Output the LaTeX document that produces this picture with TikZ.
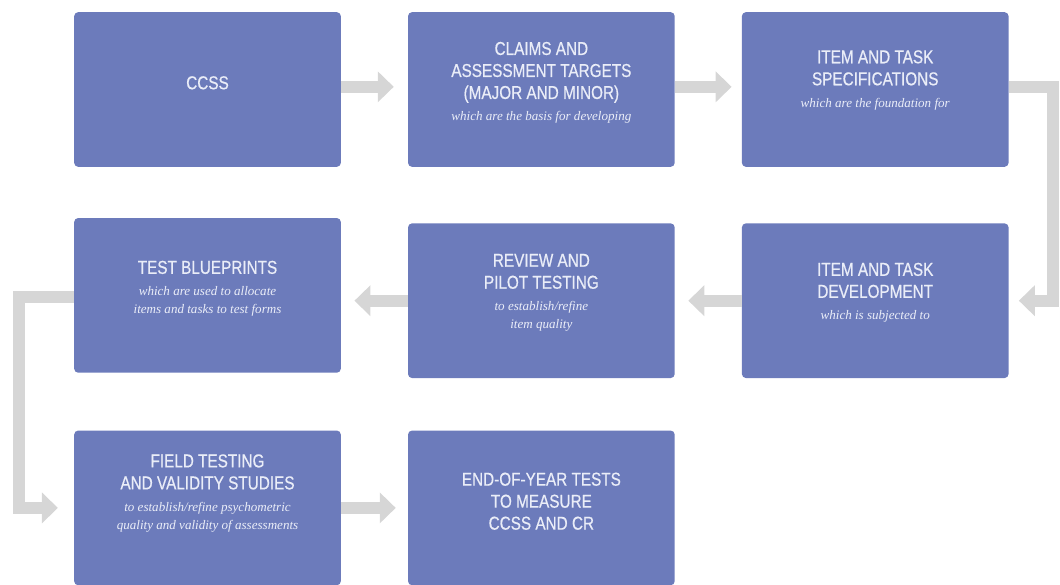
\documentclass[tikz,border=0pt]{standalone}
\usepackage{fontspec}
\setsansfont[FakeStretch=0.82, FakeBold=0.6]{Liberation Sans}
\newfontfamily\notefont{Liberation Serif}
\usepackage{xcolor}
\usetikzlibrary{arrows.meta, positioning, calc}
\definecolor{sbblue}{RGB}{108, 123, 187}
\definecolor{sbgray}{RGB}{214, 214, 214}
\definecolor{sbtext}{RGB}{234, 237, 248}
\newcommand{\note}[1]{{\notefont\itshape\fontsize{9.8}{12}\selectfont #1}}

\begin{document}
\begin{tikzpicture}[
    x=0.75pt, y=-0.75pt,
    node distance=38pt and 50pt,
    stage/.style={fill=sbblue, rounded corners=3pt, inner sep=0pt,
                  minimum width=200pt, minimum height=116pt},
    txt/.style={text=sbtext, align=center, inner sep=0pt,
                font=\sffamily\fontsize{14}{16.5}\selectfont},
    flow/.style={sbgray, line width=9pt,
                 -{Triangle[length=12pt, width=22.5pt]}},
  ]
    \useasboundingbox (0,0) rectangle (1060,585);

    % boxes
    \node[stage] (ccss) at (207.5,89.5) {};
    \node[stage, right=50pt of ccss] (claims) {};
    \node[stage, right=50pt of claims] (ispec) {};
    \node[stage, below=38pt of ccss] (blue) {};
    \node[stage, below=42pt of claims] (review) {};
    \node[stage, below=42pt of ispec] (idev) {};
    \node[stage, below=43pt of blue] (field) {};
    \node[stage, right=50pt of field] (eoy) {};

    % texts
    \node[txt] (ccss-t) at ([yshift=5pt]ccss) {CCSS};
    \node[txt] (claims-t) at ([yshift=5pt]claims)
      {CLAIMS AND\\ASSESSMENT TARGETS\\(MAJOR AND MINOR)\\
       \note{which are the basis for developing}};
    \node[txt] (ispec-t) at ([yshift=7pt]ispec)
      {ITEM AND TASK\\SPECIFICATIONS\\\note{which are the foundation for}};
    \node[txt] (blue-t) at ([yshift=5pt]blue)
      {TEST BLUEPRINTS\\\note{which are used to allocate}\\[-3pt]
       \note{items and tasks to test forms}};
    \node[txt] (review-t) at ([yshift=6pt]review)
      {REVIEW AND\\PILOT TESTING\\\note{to establish/refine}\\[-3pt]
       \note{item quality}};
    \node[txt] (idev-t) at ([yshift=6pt]idev)
      {ITEM AND TASK\\DEVELOPMENT\\\note{which is subjected to}};
    \node[txt] (field-t) at ([yshift=11pt]field)
      {FIELD TESTING\\AND VALIDITY STUDIES\\
       \note{to establish/refine psychometric}\\[-3pt]
       \note{quality and validity of assessments}};
    \node[txt] (eoy-t) at ([yshift=5pt]eoy)
      {END-OF-YEAR TESTS\\TO MEASURE\\CCSS AND CR};

    % connectors
    \coordinate (rt) at (1053,0);
    \coordinate (lt) at (19,0);
    \draw[flow] ([yshift=2pt]ccss.east) -- ([yshift=2pt, xshift=-10.5pt]claims.west);
    \draw[flow] ([yshift=2pt]claims.east) -- ([yshift=2pt, xshift=-7.5pt]ispec.west);
    \draw[flow] ([yshift=2pt]ispec.east) -- ([yshift=2pt]ispec.east -| rt)
      -- (idev.east -| rt) -- ([xshift=7.5pt]idev.east);
    \draw[flow] (idev.west) -- ([xshift=10pt]review.east);
    \draw[flow] (review.west) -- ([xshift=10pt]review.west -| blue.east);
    \draw[flow] ([yshift=-1pt]blue.west) -- ([yshift=-1pt]blue.west -| lt)
      -- (field.west -| lt) -- ([xshift=-12pt]field.west);
    \draw[flow] (field.east) -- ([xshift=-9pt]eoy.west);
  \end{tikzpicture}
\end{document}
